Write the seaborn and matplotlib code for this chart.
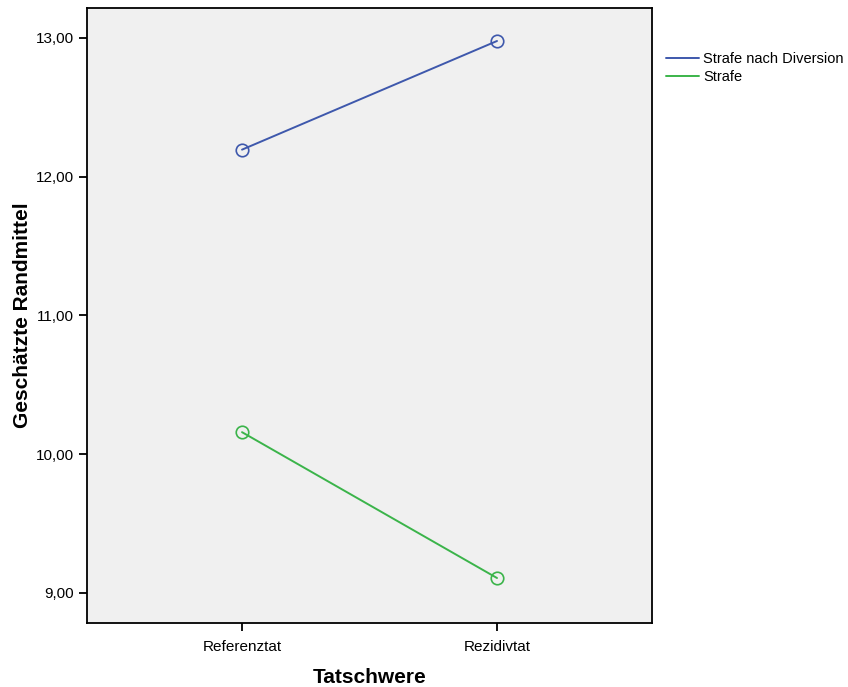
import numpy as np
import pandas as pd
import seaborn as sns
from matplotlib import pyplot as plt

# Tatschwere x Gruppe, geschätzte Randmittel
categories = ['Referenztat', 'Rezidivtat']
strafe_nach_diversion = [12.195, 12.978]
strafe = [10.159, 9.108]
series_names = ['Strafe nach Diversion', 'Strafe']
y_ticks = [9.0, 10.0, 11.0, 12.0, 13.0]

df = pd.DataFrame({
    'Tatschwere': categories * 2,
    'Randmittel': strafe_nach_diversion + strafe,
    'Gruppe': [series_names[0]] * 2 + [series_names[1]] * 2,
})

sns.set_style('white')
plt.rcParams['font.family'] = ['Liberation Sans', 'DejaVu Sans']
plt.rcParams['text.color'] = 'black'
plt.rcParams['xtick.color'] = 'black'
plt.rcParams['ytick.color'] = 'black'
plt.rcParams['axes.labelcolor'] = 'black'

fig = plt.figure(figsize=(8.48, 6.87), dpi=100)
ax = fig.add_axes([0.1026, 0.0932, 0.6663, 0.8952])
ax.set_facecolor('#F0F0F0')

palette = {series_names[0]: '#3E58AC', series_names[1]: '#3BB44A'}
sns.lineplot(data=df, x='Tatschwere', y='Randmittel', hue='Gruppe',
             palette=palette, marker='o', markersize=9, markerfacecolor='none',
             markeredgewidth=1.2, linewidth=1.4, ax=ax, sort=False)
for line in ax.lines:
    line.set_markeredgecolor(line.get_color())

ax.set_xlim(-0.608, 1.608)
ax.set_ylim(8.784, 13.216)
ax.set_yticks(y_ticks)
ax.set_yticklabels([f'{v:.2f}'.replace('.', ',') for v in y_ticks], fontsize=11)
ax.set_xticks([0, 1])
ax.set_xticklabels(categories, fontsize=11)
ax.tick_params(axis='x', pad=6)
ax.tick_params(axis='both', direction='out', length=6, width=1.3, color='black', left=True, bottom=True)

for s in ax.spines.values():
    s.set_color('black')
    s.set_linewidth(1.3)

ax.set_xlabel('Tatschwere', fontsize=15, fontweight='bold', labelpad=10)
ax.set_ylabel('Geschätzte Randmittel', fontsize=15, fontweight='bold', labelpad=3)

handles, labels = ax.get_legend_handles_labels()
for h in handles:
    h.set_marker('')
ax.legend(handles, labels, loc='upper left', bbox_to_anchor=(0.779, 0.933),
          bbox_transform=fig.transFigure, frameon=False, fontsize=10.5,
          handlelength=2.2, handletextpad=0.3, labelspacing=0.3, borderaxespad=0)

fig.savefig('out.png', dpi=100)
